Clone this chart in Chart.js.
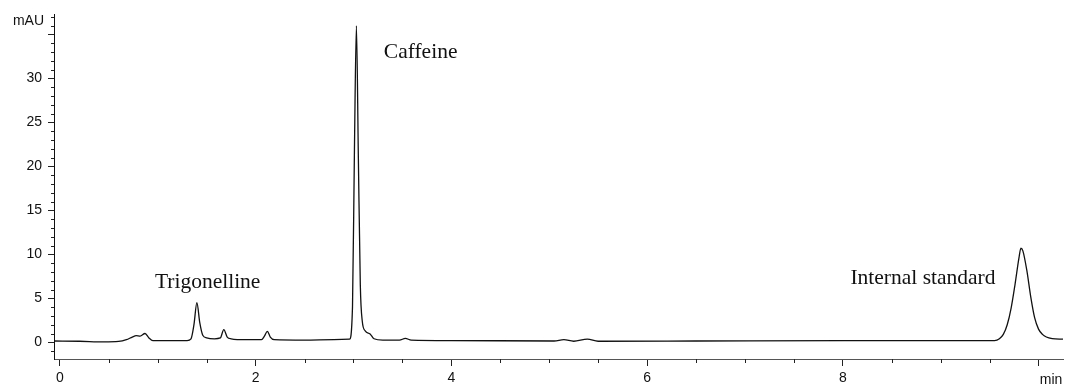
<!DOCTYPE html>
<html>
<head>
<meta charset="utf-8">
<script src="https://cdn.jsdelivr.net/npm/chart.js@4/dist/chart.umd.min.js"></script>
<style>
  html, body { margin: 0; padding: 0; background: #fff; }
  #wrap { width: 1065px; height: 385px; position: relative; }
</style>
</head>
<body>
<div id="wrap"><canvas id="chromChart"></canvas></div>
<script>
/* ===== chromatogram data ===== */
const retTime = [
  -0.06, 0.2, 0.45, 0.6, 0.68, 0.74, 0.78, 0.82, 0.87, 0.91, 0.95, 1.1,
  1.3, 1.34, 1.37, 1.40, 1.43, 1.46, 1.50, 1.58, 1.64, 1.675, 1.71, 1.75,
  1.9, 2.06, 2.09, 2.12, 2.15, 2.19, 2.5, 2.8, 2.96, 2.99, 3.01, 3.03,
  3.05, 3.07, 3.09, 3.12, 3.17, 3.21, 3.3, 3.47, 3.53, 3.59, 4.0, 5.05,
  5.15, 5.25, 5.39, 5.5, 6.5, 8.0, 9.55, 9.6, 9.64, 9.68, 9.72, 9.76,
  9.80, 9.82, 9.84, 9.88, 9.92, 9.96, 10.0, 10.04, 10.08, 10.14, 10.25
];
const absorbance = [
  0.15, 0.12, 0.05, 0.1, 0.3, 0.6, 0.75, 0.7, 1.0, 0.5, 0.2, 0.2,
  0.2, 0.4, 2.0, 4.5, 2.2, 0.8, 0.5, 0.4, 0.5, 1.45, 0.6, 0.4,
  0.3, 0.3, 0.7, 1.25, 0.6, 0.3, 0.25, 0.3, 0.35, 4, 22, 36.0,
  21, 6.5, 2.4, 1.3, 0.95, 0.4, 0.25, 0.25, 0.45, 0.25, 0.2, 0.15,
  0.3, 0.12, 0.35, 0.12, 0.15, 0.2, 0.2, 0.4, 0.9, 2.0, 3.9, 6.6,
  9.6, 10.7, 10.4, 8.2, 5.2, 2.8, 1.5, 0.9, 0.6, 0.42, 0.35
];

/* peak labels */
const peakNames = ["Trigonelline", "Caffeine", "Internal standard"];
const peakTimes = [1.51, 3.31, 9.56];
const peakLevels = [6.8, 33.0, 7.3];
const peakAlign = ["center", "left", "right"];

const X_MIN = -0.06, X_MAX = 10.25;
const Y_MIN = -1.9, Y_MAX = 37.3;

/* ========= TEXT + MINOR TICKS PLUGIN ========= */
const decorPlugin = {
  id: "decor",
  afterDraw(chart) {
    const { ctx, scales, chartArea } = chart;
    ctx.save();

    // minor ticks
    ctx.strokeStyle = "#222";
    ctx.lineWidth = 1;
    ctx.beginPath();
    for (let v = Math.ceil(Y_MIN); v <= Y_MAX; v++) {
      if (v % 5 === 0) continue;
      const py = Math.round(scales.y.getPixelForValue(v)) + 0.5;
      ctx.moveTo(chartArea.left - 3, py);
      ctx.lineTo(chartArea.left, py);
    }
    for (let t = 0.5; t <= X_MAX; t += 0.5) {
      if (t % 2 === 0) continue;
      const px = Math.round(scales.x.getPixelForValue(t)) + 0.5;
      ctx.moveTo(px, chartArea.bottom);
      ctx.lineTo(px, chartArea.bottom + 4);
    }
    ctx.stroke();

    // peak names
    ctx.fillStyle = "#111";
    ctx.font = '21.5px "Liberation Serif", "Times New Roman", serif';
    ctx.textBaseline = "middle";
    peakNames.forEach((name, i) => {
      ctx.textAlign = peakAlign[i];
      ctx.fillText(name, scales.x.getPixelForValue(peakTimes[i]),
        scales.y.getPixelForValue(peakLevels[i]));
    });

    // axis unit labels
    ctx.font = '14px "Liberation Sans", Arial, sans-serif';
    ctx.textAlign = "right";
    ctx.fillText("mAU", 44, 21);
    ctx.textAlign = "center";
    ctx.fillText("min", 1051, 380);
    ctx.restore();
  }
};

/* ========= CHART ========= */
const ctx = document.getElementById("chromChart").getContext("2d");

new Chart(ctx, {
  type: "line",
  data: {
    datasets: [{
      data: retTime.map((t, i) => ({ x: t, y: absorbance[i] })),
      borderColor: "#111",
      borderWidth: 1.3,
      pointRadius: 0,
      cubicInterpolationMode: "monotone",
      fill: false
    }]
  },
  options: {
    responsive: true,
    maintainAspectRatio: false,
    animation: false,
    layout: { padding: { top: 10, right: 2, left: 0, bottom: 0 } },
    plugins: {
      legend: { display: false },
      tooltip: { enabled: false }
    },
    scales: {
      x: {
        type: "linear",
        min: X_MIN,
        max: X_MAX,
        afterFit(scale) { scale.height = 26; },
        border: { display: true, color: "#555", width: 1 },
        grid: { drawOnChartArea: false, tickLength: 7, color: "#222" },
        ticks: {
          stepSize: 2,
          includeBounds: false,
          autoSkip: false,
          maxRotation: 0,
          padding: 4,
          color: "#111",
          font: { family: '"Liberation Sans", Arial, sans-serif', size: 14 },
          callback: v => (v <= 8) ? String(v) : ""
        }
      },
      y: {
        min: Y_MIN,
        max: Y_MAX,
        afterFit(scale) { scale.width = 54; },
        border: { display: true, color: "#111", width: 1 },
        grid: { drawOnChartArea: false, tickLength: 6, color: "#222" },
        ticks: {
          stepSize: 5,
          includeBounds: false,
          autoSkip: false,
          padding: 6,
          color: "#111",
          font: { family: '"Liberation Sans", Arial, sans-serif', size: 14 },
          callback: v => (v >= 0 && v <= 30) ? String(v) : ""
        }
      }
    }
  },
  plugins: [decorPlugin]
});
</script>
</body>
</html>
